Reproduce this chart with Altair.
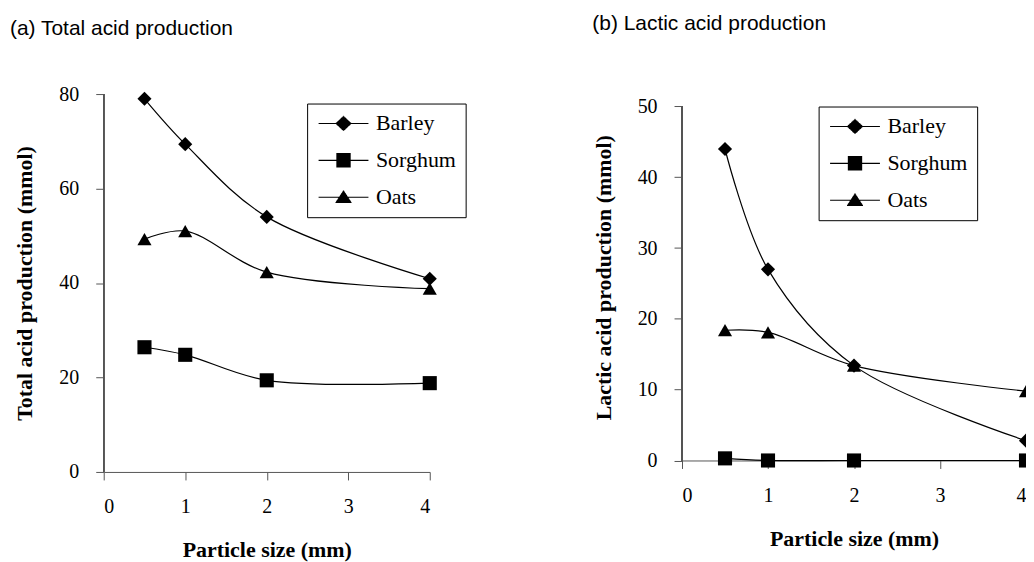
import altair as alt
import pandas as pd

# ---- data ----
sizes = [0.5, 1, 2, 4]
series = ["Barley", "Sorghum", "Oats"]

total_barley = [79.0, 69.4, 54.0, 40.9]
total_sorghum = [26.4, 24.8, 19.4, 18.8]
total_oats = [49.3, 51.0, 42.3, 38.8]

lactic_barley = [44.0, 27.0, 13.4, 2.8]
lactic_sorghum = [0.3, 0.0, 0.0, 0.0]
lactic_oats = [18.4, 18.1, 13.4, 9.8]

x_ticks = [0, 1, 2, 3, 4]
total_ticks = [0, 20, 40, 60, 80]
lactic_ticks = [0, 10, 20, 30, 40, 50]


def make_df(b, s, o):
    rows = []
    for name, vals in zip(series, [b, s, o]):
        for x, v in zip(sizes, vals):
            rows.append({"size": x, "value": v, "series": name})
    return pd.DataFrame(rows)


df_total = make_df(total_barley, total_sorghum, total_oats)
df_lactic = make_df(lactic_barley, lactic_sorghum, lactic_oats)

SERIF = "Liberation Serif"
SANS = "Liberation Sans"
AX = "#555555"

point_shapes = ["diamond", "square", "triangle-up"]


# legend glyphs: a line with a solid marker drawn from stroked hatch lines
def glyph(halfwidth, y0, y1, step=0.07):
    parts = ["M-2.5,0H2.5"]
    y = y0
    while y <= y1 + 1e-9:
        w = halfwidth(y)
        if w > 0.02:
            parts.append(f"M{-w:.3f},{y:.3f}H{w:.3f}")
        y += step
    return "".join(parts)


legend_shapes = [
    glyph(lambda y: 0.8 * (1 - abs(y) / 0.75), -0.72, 0.72),
    glyph(lambda y: 0.72, -0.68, 0.68),
    glyph(lambda y: 0.85 * (y + 0.7) / 1.3, -0.66, 0.58),
]


def panel(df, ticks, ymax, dom_top, ytitle, ytp, title, w, h, toff, tdx, lx, ly):
    x = alt.X("size:Q", scale=alt.Scale(domain=[0, 4], nice=False),
              axis=alt.Axis(values=x_ticks, title="Particle size (mm)", format="d"))
    y = alt.Y("value:Q", scale=alt.Scale(domain=[0, dom_top], nice=False),
              axis=alt.Axis(values=ticks, title=ytitle, format="d", domain=False,
                            titlePadding=ytp))
    yaxis_line = alt.Chart(df).mark_rule(color=AX, strokeWidth=1).encode(
        x=alt.datum(0), y=alt.datum(0), y2=alt.datum(ymax)
    )
    lines = alt.Chart(df).mark_line(
        interpolate="catmull-rom", color="black", strokeWidth=1.2
    ).encode(x=x, y=y, detail="series:N")
    points = alt.Chart(df).mark_point(
        filled=True, color="black", opacity=1, size=200
    ).encode(
        x=x, y=y,
        shape=alt.Shape("series:N", scale=alt.Scale(domain=series, range=point_shapes), legend=None),
    )
    leg = alt.Chart(df).transform_filter("datum.value < -1000").mark_point(
        filled=False, color="black", strokeWidth=1.1, opacity=1
    ).encode(
        x=x, y=y,
        shape=alt.Shape(
            "series:N",
            scale=alt.Scale(domain=series, range=legend_shapes),
            legend=alt.Legend(
                title=None, orient="none", legendX=lx, legendY=ly,
                symbolSize=400, symbolStrokeWidth=1.1, symbolStrokeColor="black",
                symbolOffset=16.5, labelOffset=21.5,
                labelFont=SERIF, labelFontSize=22, labelColor="black",
                rowPadding=15, padding=9, strokeColor="black", fillColor="white",
            ),
        ),
    )
    return alt.layer(yaxis_line, lines, points, leg).resolve_scale(shape="independent").properties(
        width=w, height=h,
        title=alt.TitleParams(text=title, anchor="start", font=SANS, fontSize=21,
                              fontWeight="normal", color="black", offset=toff, dx=tdx),
    )


left = panel(df_total, total_ticks, 80, 80, "Total acid production (mmol)", 22,
             "(a) Total acid production", 327, 379, 45, -4, 204, 9.5)
right = panel(df_lactic, lactic_ticks, 50, 51.76, "Lactic acid production (mmol)", 22,
              "(b)  Lactic acid production", 345, 367.5, 60, 0, 137, 12.5)

chart = alt.hconcat(left, right, spacing=126).properties(
    padding={"left": 2, "top": 4.5, "right": -8, "bottom": 0}
).configure_view(stroke=None).configure_axis(
    grid=False, domainColor=AX, tickColor=AX, domainWidth=1, tickWidth=1,
    tickSize=8, labelFont=SERIF, labelFontSize=20, labelColor="black",
    titleFont=SERIF, titleFontSize=22, titleFontWeight="bold", titleColor="black",
).configure_axisX(labelPadding=17, titlePadding=23).configure_axisY(
    labelPadding=17
)

chart.save("out.html", embed_options={"renderer": "svg", "actions": False})
